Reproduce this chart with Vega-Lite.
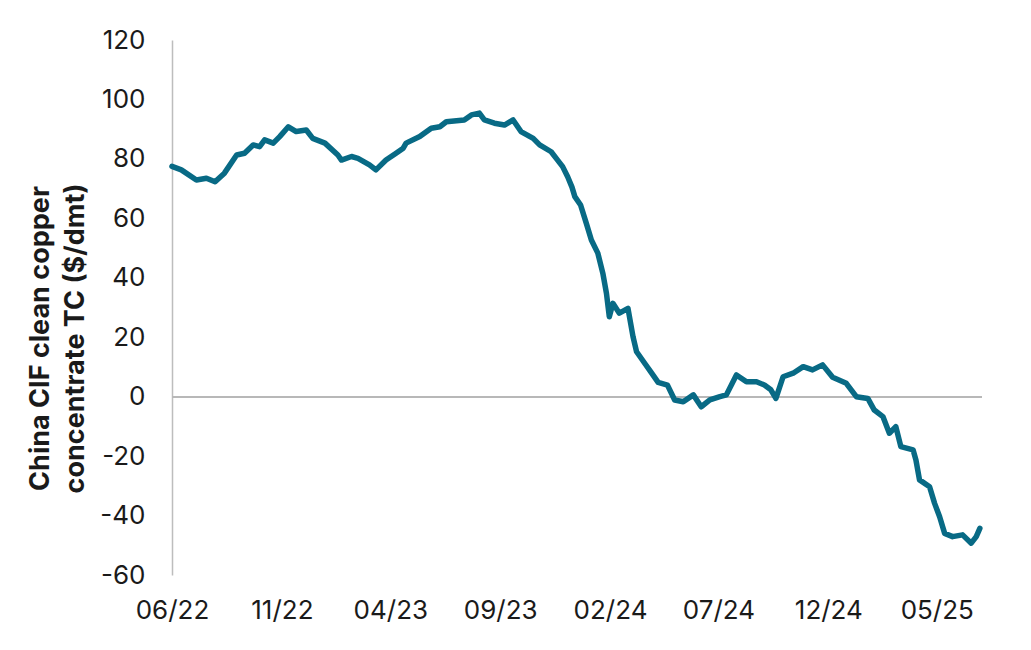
{
  "$schema": "https://vega.github.io/schema/vega-lite/v6.json",
  "autosize": "none",
  "width": 810,
  "height": 535,
  "padding": {"left": 172, "top": 40, "right": 49, "bottom": 75},
  "background": "white",
  "config": {
    "view": {"stroke": null},
    "font": "Inter",
    "axis": {"labelFont": "Inter", "titleFont": "Inter"}
  },
  "data": {
    "values": [
      {"date": "2022-06-01", "tc": 77.5},
      {"date": "2022-06-14", "tc": 76.3},
      {"date": "2022-07-05", "tc": 72.9},
      {"date": "2022-07-19", "tc": 73.5},
      {"date": "2022-07-31", "tc": 72.3},
      {"date": "2022-08-13", "tc": 75.2},
      {"date": "2022-08-30", "tc": 81.3},
      {"date": "2022-09-10", "tc": 81.9},
      {"date": "2022-09-22", "tc": 84.7},
      {"date": "2022-10-01", "tc": 84.1},
      {"date": "2022-10-08", "tc": 86.4},
      {"date": "2022-10-20", "tc": 85.3},
      {"date": "2022-10-29", "tc": 87.5},
      {"date": "2022-11-10", "tc": 90.8},
      {"date": "2022-11-21", "tc": 89.2},
      {"date": "2022-12-05", "tc": 89.7},
      {"date": "2022-12-14", "tc": 86.9},
      {"date": "2022-12-31", "tc": 85.3},
      {"date": "2023-01-18", "tc": 81.3},
      {"date": "2023-01-23", "tc": 79.6},
      {"date": "2023-02-06", "tc": 80.8},
      {"date": "2023-02-15", "tc": 80.2},
      {"date": "2023-03-03", "tc": 78.0},
      {"date": "2023-03-12", "tc": 76.3},
      {"date": "2023-03-26", "tc": 79.6},
      {"date": "2023-04-09", "tc": 81.9},
      {"date": "2023-04-19", "tc": 83.6},
      {"date": "2023-04-23", "tc": 85.3},
      {"date": "2023-05-12", "tc": 87.5},
      {"date": "2023-05-28", "tc": 90.3},
      {"date": "2023-06-09", "tc": 90.8},
      {"date": "2023-06-18", "tc": 92.5},
      {"date": "2023-07-13", "tc": 93.1},
      {"date": "2023-07-23", "tc": 94.8},
      {"date": "2023-08-03", "tc": 95.4},
      {"date": "2023-08-10", "tc": 93.1},
      {"date": "2023-08-24", "tc": 92.0},
      {"date": "2023-09-07", "tc": 91.4},
      {"date": "2023-09-19", "tc": 93.1},
      {"date": "2023-09-30", "tc": 89.2},
      {"date": "2023-10-17", "tc": 86.9},
      {"date": "2023-10-26", "tc": 84.7},
      {"date": "2023-11-11", "tc": 82.4},
      {"date": "2023-11-20", "tc": 79.6},
      {"date": "2023-11-27", "tc": 77.4},
      {"date": "2023-12-04", "tc": 74.0},
      {"date": "2023-12-10", "tc": 70.5},
      {"date": "2023-12-14", "tc": 67.3},
      {"date": "2023-12-22", "tc": 64.5},
      {"date": "2023-12-30", "tc": 58.3},
      {"date": "2024-01-06", "tc": 52.7},
      {"date": "2024-01-15", "tc": 48.3},
      {"date": "2024-01-22", "tc": 41.5},
      {"date": "2024-01-27", "tc": 34.8},
      {"date": "2024-01-31", "tc": 26.9},
      {"date": "2024-02-05", "tc": 31.4},
      {"date": "2024-02-14", "tc": 28.1},
      {"date": "2024-02-26", "tc": 29.7},
      {"date": "2024-03-04", "tc": 20.2},
      {"date": "2024-03-09", "tc": 15.1},
      {"date": "2024-03-21", "tc": 11.0},
      {"date": "2024-03-30", "tc": 7.9},
      {"date": "2024-04-08", "tc": 4.8},
      {"date": "2024-04-21", "tc": 3.9},
      {"date": "2024-05-01", "tc": -1.1},
      {"date": "2024-05-13", "tc": -1.7},
      {"date": "2024-05-27", "tc": 0.6},
      {"date": "2024-06-07", "tc": -3.4},
      {"date": "2024-06-19", "tc": -1.1},
      {"date": "2024-07-03", "tc": 0.0},
      {"date": "2024-07-12", "tc": 0.6},
      {"date": "2024-07-26", "tc": 7.3},
      {"date": "2024-08-09", "tc": 5.0},
      {"date": "2024-08-23", "tc": 5.0},
      {"date": "2024-09-03", "tc": 3.9},
      {"date": "2024-09-12", "tc": 2.3},
      {"date": "2024-09-19", "tc": -0.6},
      {"date": "2024-09-29", "tc": 6.7},
      {"date": "2024-10-13", "tc": 7.9},
      {"date": "2024-10-27", "tc": 10.1},
      {"date": "2024-11-09", "tc": 9.0},
      {"date": "2024-11-23", "tc": 10.7},
      {"date": "2024-12-07", "tc": 6.5},
      {"date": "2024-12-26", "tc": 4.5},
      {"date": "2025-01-09", "tc": 0.0},
      {"date": "2025-01-25", "tc": -0.6},
      {"date": "2025-02-03", "tc": -4.5},
      {"date": "2025-02-15", "tc": -6.7},
      {"date": "2025-02-24", "tc": -12.3},
      {"date": "2025-03-05", "tc": -10.1},
      {"date": "2025-03-12", "tc": -16.8},
      {"date": "2025-03-29", "tc": -17.9},
      {"date": "2025-04-02", "tc": -21.3},
      {"date": "2025-04-07", "tc": -28.0},
      {"date": "2025-04-21", "tc": -30.3},
      {"date": "2025-04-28", "tc": -35.9},
      {"date": "2025-05-05", "tc": -40.4},
      {"date": "2025-05-12", "tc": -46.0},
      {"date": "2025-05-23", "tc": -47.1},
      {"date": "2025-06-06", "tc": -46.5},
      {"date": "2025-06-18", "tc": -49.3},
      {"date": "2025-06-25", "tc": -47.1},
      {"date": "2025-06-30", "tc": -44.3}
    ]
  },
  "layer": [
    {
      "mark": {"type": "rule", "color": "#b8b8b8", "strokeWidth": 1.5},
      "encoding": {"y": {"datum": 0, "type": "quantitative"}}
    },
    {
      "mark": {"type": "line", "color": "#086a85", "strokeWidth": 5.5, "strokeJoin": "round", "strokeCap": "round"},
      "encoding": {
        "x": {
          "field": "date",
          "type": "temporal",
          "scale": {"type": "utc", "domain": [{"year": 2022, "month": 6, "date": 1, "utc": true}, {"year": 2025, "month": 7, "date": 3, "utc": true}]},
          "axis": {
            "title": null,
            "domain": false,
            "ticks": false,
            "grid": false,
            "labelExpr": "utcFormat(datum.value, '%m/%y')",
            "values": [
              {"year": 2022, "month": 6, "date": 1, "utc": true},
              {"year": 2022, "month": 11, "date": 1, "utc": true},
              {"year": 2023, "month": 4, "date": 1, "utc": true},
              {"year": 2023, "month": 9, "date": 1, "utc": true},
              {"year": 2024, "month": 2, "date": 1, "utc": true},
              {"year": 2024, "month": 7, "date": 1, "utc": true},
              {"year": 2024, "month": 12, "date": 1, "utc": true},
              {"year": 2025, "month": 5, "date": 1, "utc": true}
            ],
            "labelFontSize": 26,
            "labelColor": "#1a1a1a",
            "labelPadding": 22,
            "labelFlush": false,
            "labelOverlap": false
          }
        },
        "y": {
          "field": "tc",
          "type": "quantitative",
          "scale": {"domain": [-60, 120], "nice": false, "zero": false},
          "axis": {
            "title": ["China CIF clean copper", "concentrate TC ($/dmt)"],
            "titleFontSize": 27,
            "titleFontWeight": "bold",
            "titleColor": "#1a1a1a",
            "titleY": 298,
            "titlePadding": 10,
            "titleLineHeight": 35,
            "values": [-60, -40, -20, 0, 20, 40, 60, 80, 100, 120],
            "labelExpr": "'' + datum.value",
            "grid": false,
            "ticks": false,
            "domain": true,
            "domainColor": "#bdbdbd",
            "domainWidth": 1.5,
            "labelFontSize": 26,
            "labelColor": "#1a1a1a",
            "labelPadding": 27
          }
        }
      }
    }
  ]
}
